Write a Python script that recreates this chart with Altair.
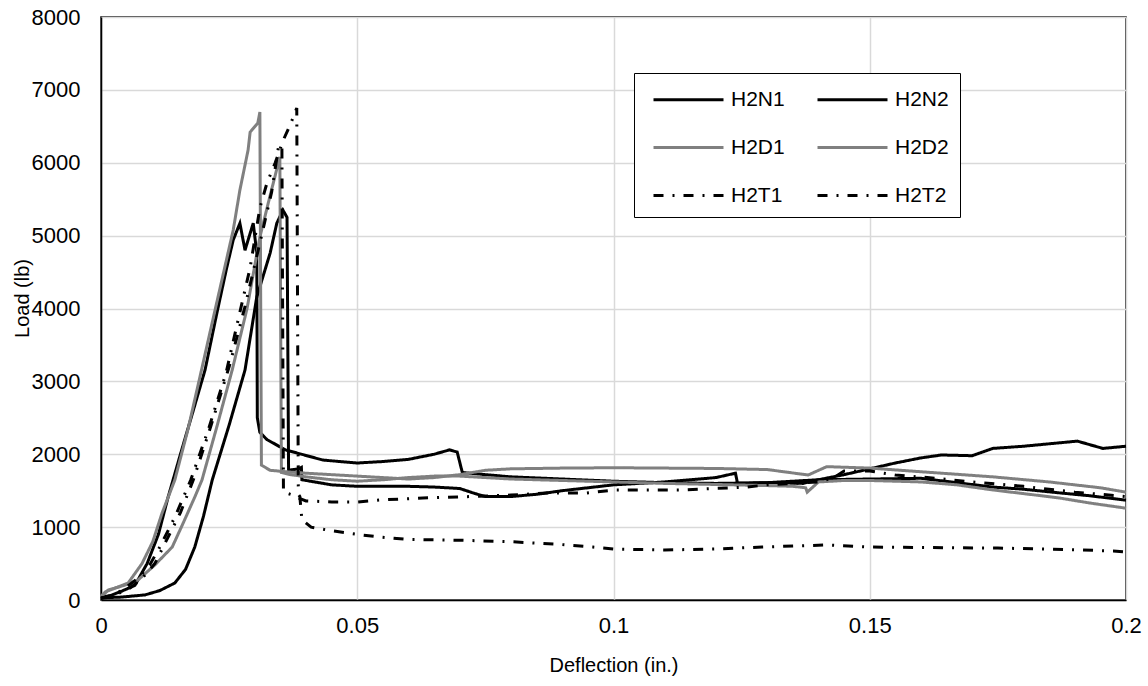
import altair as alt
import pandas as pd

# ---- data ----
series_names = ["H2N1", "H2N2", "H2D1", "H2D2", "H2T1", "H2T2"]

n1_x = [0, 0.0018, 0.004, 0.0066, 0.009, 0.0112, 0.0131, 0.0155, 0.018, 0.0203, 0.0225, 0.0245, 0.0258,
        0.0271, 0.0281, 0.0297, 0.0304, 0.0305, 0.031, 0.0324, 0.036, 0.0433, 0.05, 0.055, 0.06, 0.065,
        0.068, 0.0695, 0.0705, 0.075, 0.08, 0.09, 0.1, 0.11, 0.12, 0.13, 0.14, 0.145, 0.15, 0.155, 0.16,
        0.164, 0.17, 0.174, 0.18, 0.1905, 0.1955, 0.2]
n1_y = [40, 60, 120, 200, 500, 900, 1413, 2000, 2600, 3156, 3900, 4550, 4940,
        5170, 4800, 5170, 4760, 2500, 2300, 2200, 2060, 1920, 1880, 1900, 1930, 2000,
        2060, 2030, 1750, 1720, 1690, 1660, 1630, 1610, 1600, 1610, 1650, 1720, 1800, 1880, 1950,
        1990, 1980, 2080, 2110, 2180, 2080, 2110]

n2_x = [0, 0.004, 0.0086, 0.0115, 0.0144, 0.0165, 0.0183, 0.02, 0.0217, 0.025, 0.0281, 0.0304, 0.033,
        0.0343, 0.0355, 0.0363, 0.0366, 0.0385, 0.0391, 0.0392, 0.045, 0.05, 0.06, 0.065, 0.07, 0.073,
        0.075, 0.08, 0.085, 0.09, 0.1, 0.11, 0.12, 0.1238, 0.1242, 0.13, 0.137, 0.14, 0.15, 0.16, 0.174,
        0.18, 0.187, 0.193, 0.2]
n2_y = [30, 40, 70, 130, 233, 420, 727, 1150, 1646, 2400, 3156, 4160, 4760,
        5170, 5350, 5250, 1780, 1800, 1820, 1650, 1580, 1560, 1560, 1550, 1530, 1460,
        1420, 1420, 1450, 1500, 1580, 1620, 1680, 1740, 1600, 1610, 1600, 1650, 1660, 1670, 1550,
        1520, 1470, 1430, 1370]

d1_x = [0, 0.0008, 0.003, 0.0053, 0.008, 0.0101, 0.0119, 0.0144, 0.017, 0.0193, 0.022, 0.0258, 0.0271,
        0.0287, 0.0291, 0.0306, 0.031, 0.0313, 0.033, 0.036, 0.04, 0.045, 0.05, 0.055, 0.06, 0.065,
        0.07, 0.075, 0.08, 0.09, 0.1, 0.11, 0.12, 0.13, 0.138, 0.1416, 0.15, 0.16, 0.174, 0.185, 0.195, 0.2]
d1_y = [50, 110, 170, 233, 500, 800, 1190, 1646, 2350, 3060, 3900, 5076, 5625,
        6174, 6420, 6545, 6695, 1850, 1780, 1760, 1740, 1720, 1700, 1680, 1660, 1680,
        1720, 1780, 1800, 1810, 1815, 1810, 1805, 1790, 1715, 1830, 1810, 1760, 1690, 1620, 1540, 1480]

d2_x = [0, 0.0014, 0.0045, 0.0072, 0.0105, 0.0139, 0.016, 0.0183, 0.0197, 0.0225, 0.0256, 0.0285, 0.031,
        0.033, 0.0349, 0.0352, 0.037, 0.04, 0.045, 0.05, 0.055, 0.06, 0.065, 0.07, 0.08, 0.09, 0.1,
        0.11, 0.12, 0.13, 0.135, 0.1375, 0.1378, 0.14, 0.145, 0.15, 0.155, 0.16, 0.167, 0.174, 0.18,
        0.187, 0.193, 0.2]
d2_y = [40, 137, 200, 274, 480, 727, 1050, 1413, 1646, 2350, 3156, 4000, 4980,
        5550, 6080, 1750, 1720, 1690, 1650, 1630, 1650, 1680, 1700, 1700, 1660, 1640, 1620,
        1600, 1585, 1570, 1560, 1540, 1480, 1620, 1640, 1640, 1630, 1620, 1580, 1510, 1460,
        1400, 1330, 1260]

t1_x = [0, 0.002, 0.0045, 0.0072, 0.0095, 0.0115, 0.0145, 0.0175, 0.021, 0.0244, 0.0271, 0.0291, 0.031,
        0.0324, 0.034, 0.0355, 0.0369, 0.0382, 0.0385, 0.0388, 0.0392, 0.041, 0.045, 0.05, 0.0544,
        0.06, 0.07, 0.08, 0.09, 0.096, 0.1, 0.11, 0.12, 0.129, 0.1416, 0.15, 0.16, 0.175, 0.19, 0.1975, 0.2]
t1_y = [30, 50, 150, 300, 480, 730, 1150, 1646, 2350, 3115, 3950, 4560, 5380,
        5727, 6000, 6300, 6517, 6750, 1450, 1420, 1100, 1000, 950, 900, 864,
        830, 820, 800, 760, 727, 700, 686, 700, 727, 755, 727, 720, 713, 690, 672, 660]

t2_x = [0, 0.002, 0.005, 0.0078, 0.0105, 0.0125, 0.0155, 0.018, 0.0215, 0.025, 0.028, 0.031, 0.0333,
        0.0347, 0.0353, 0.0356, 0.037, 0.0385, 0.04, 0.045, 0.05, 0.0544, 0.0628, 0.0695, 0.08, 0.087,
        0.0948, 0.1, 0.113, 0.126, 0.13, 0.14, 0.143, 0.145, 0.15, 0.155, 0.163, 0.17, 0.18, 0.19, 0.2]
t2_y = [20, 60, 130, 280, 500, 780, 1200, 1646, 2400, 3200, 4000, 4900, 5600,
        6250, 6200, 1480, 1450, 1400, 1360, 1345, 1345, 1372, 1400, 1413, 1440, 1468,
        1468, 1509, 1509, 1550, 1580, 1620, 1680, 1770, 1770, 1715, 1670, 1620, 1560, 1480, 1420]

line_colors = ["#000000", "#000000", "#808080", "#808080", "#000000", "#000000"]
line_dashes = [[1, 0], [1, 0], [1, 0], [1, 0], [10, 9, 2, 9], [10, 9, 2, 9]]

x_ticks = [0, 0.05, 0.1, 0.15, 0.2]
y_ticks = [0, 1000, 2000, 3000, 4000, 5000, 6000, 7000, 8000]

# ---- build table ----
all_x = [n1_x, n2_x, d1_x, d2_x, t1_x, t2_x]
all_y = [n1_y, n2_y, d1_y, d2_y, t1_y, t2_y]
rows = []
for name, xs, ys in zip(series_names, all_x, all_y):
    for i, (xv, yv) in enumerate(zip(xs, ys)):
        rows.append({"series": name, "idx": i, "defl": xv, "load": yv})
df = pd.DataFrame(rows)

FONT = "Liberation Sans"

legend_cfg = dict(
    title=None, orient="none", legendX=533, legendY=56, columns=2, direction="horizontal",
    symbolType="M-0.5,0H4.5", symbolSize=784, symbolStrokeWidth=3,
    labelFont=FONT, labelFontSize=21, labelColor="#000000", labelOffset=55,
    columnPadding=24, rowPadding=22, padding=11,
    strokeColor="#000000", fillColor="#ffffff",
)

chart = alt.Chart(df).mark_line(strokeWidth=3).encode(
    x=alt.X("defl:Q", title="Deflection (in.)",
            scale=alt.Scale(domain=[0, 0.2], nice=False),
            axis=alt.Axis(values=x_ticks, format="~g", labelPadding=15, labelFlush=False,
                          titleY=65, titleBaseline="middle")),
    y=alt.Y("load:Q", title="Load (lb)",
            scale=alt.Scale(domain=[0, 8000], nice=False),
            axis=alt.Axis(values=y_ticks, format="d", labelPadding=21, labelFlush=False,
                          titleX=-79, titleY=281, titleAngle=270,
                          titleAlign="center", titleBaseline="middle")),
    color=alt.Color("series:N", scale=alt.Scale(domain=series_names, range=line_colors),
                    legend=alt.Legend(**legend_cfg)),
    strokeDash=alt.StrokeDash("series:N", scale=alt.Scale(domain=series_names, range=line_dashes),
                              legend=alt.Legend(**legend_cfg)),
    order=alt.Order("idx:Q"),
).properties(
    width=1025, height=583,
    padding={"left": 101, "top": 17, "right": 22, "bottom": 86},
    autosize="none",
).configure_view(
    stroke="#000000", strokeWidth=1.5
).configure_axis(
    grid=True, gridColor="#d9d9d9", gridWidth=1.5,
    domainColor="#000000", domainWidth=1.5, ticks=False,
    labelFont=FONT, labelFontSize=22, labelColor="#000000",
    titleFont=FONT, titleFontSize=20, titleColor="#000000", titleFontWeight="normal",
)

chart.save("out.html", embed_options={"renderer": "svg", "actions": False})
